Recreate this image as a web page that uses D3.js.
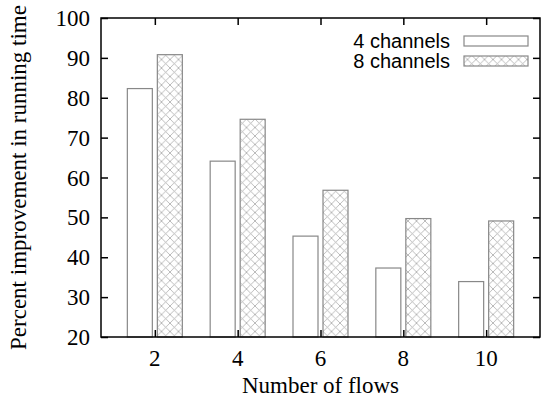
<!DOCTYPE html>
<html>
<head>
<meta charset="utf-8">
<script src="https://cdn.jsdelivr.net/npm/d3@7"></script>
<style>
body { margin: 0; background: #fff; }
</style>
</head>
<body>
<script>
// data
const flows = [2, 4, 6, 8, 10];
const series = ["4 channels", "8 channels"];
const ch4 = [82.3, 64.1, 45.3, 37.3, 33.9];
const ch8 = [90.8, 74.6, 56.8, 49.7, 49.1];
const yTicks = [20, 30, 40, 50, 60, 70, 80, 90, 100];

const width = 550;
const height = 404;
const margin = { top: 18, right: 10, bottom: 67, left: 101 };

const svg = d3.select("body")
    .append("svg")
    .attr("width", width)
    .attr("height", height);

// crosshatch pattern
const pat = svg.append("defs").append("pattern")
    .attr("id", "hatch")
    .attr("patternUnits", "userSpaceOnUse")
    .attr("width", 8.5)
    .attr("height", 8.5);
pat.append("rect").attr("width", 8.5).attr("height", 8.5).attr("fill", "#fff");
pat.append("path")
    .attr("d", "M0,0L8.5,8.5M8.5,0L0,8.5")
    .attr("stroke", "#aaa")
    .attr("stroke-width", 0.8);

const x = d3.scaleLinear()
    .domain([0.7, 11.3])
    .range([margin.left, width - margin.right]);
const y = d3.scaleLinear()
    .domain([20, 100])
    .range([height - margin.bottom, margin.top]);

const barW = 25;
const gap = 2.5;

// bars
const g = svg.append("g");
flows.forEach(function(f, i) {
    g.append("rect")
        .attr("x", x(f) - gap - barW)
        .attr("y", y(ch4[i]))
        .attr("width", barW)
        .attr("height", y(20) - y(ch4[i]))
        .attr("fill", "#fff")
        .attr("stroke", "#888")
        .attr("stroke-width", 1.2);
    g.append("rect")
        .attr("x", x(f) + gap)
        .attr("y", y(ch8[i]))
        .attr("width", barW)
        .attr("height", y(20) - y(ch8[i]))
        .attr("fill", "url(#hatch)")
        .attr("stroke", "#888")
        .attr("stroke-width", 1.2);
});

// axes, ticks inward and mirrored
const tickLen = 7;
const axisG = svg.append("g");
axisG.append("g")
    .attr("transform", "translate(" + margin.left + ",0)")
    .call(d3.axisRight(y).tickValues(yTicks).tickSize(tickLen).tickFormat(""));
axisG.append("g")
    .attr("transform", "translate(" + (width - margin.right) + ",0)")
    .call(d3.axisLeft(y).tickValues(yTicks).tickSize(tickLen).tickFormat(""));
axisG.append("g")
    .attr("transform", "translate(0," + (height - margin.bottom) + ")")
    .call(d3.axisTop(x).tickValues(flows).tickSize(tickLen).tickFormat(""));
axisG.append("g")
    .attr("transform", "translate(0," + margin.top + ")")
    .call(d3.axisBottom(x).tickValues(flows).tickSize(tickLen).tickFormat(""));
axisG.selectAll(".domain").remove();
axisG.selectAll("line").attr("stroke", "#000").attr("stroke-width", 1.5);

svg.append("rect")
    .attr("x", margin.left)
    .attr("y", margin.top)
    .attr("width", width - margin.left - margin.right)
    .attr("height", height - margin.top - margin.bottom)
    .attr("fill", "none")
    .attr("stroke", "#000")
    .attr("stroke-width", 1.5);

// tick labels
const serif = "'Liberation Serif', 'Times New Roman', serif";
svg.append("g").selectAll("text")
    .data(yTicks)
    .enter()
    .append("text")
    .attr("x", margin.left - 11)
    .attr("y", function(d) { return y(d); })
    .attr("dy", "0.35em")
    .attr("text-anchor", "end")
    .style("font-family", serif)
    .style("font-size", "23px")
    .text(function(d) { return d; });

svg.append("g").selectAll("text")
    .data(flows)
    .enter()
    .append("text")
    .attr("x", function(d) { return x(d); })
    .attr("y", 366)
    .attr("text-anchor", "middle")
    .style("font-family", serif)
    .style("font-size", "23px")
    .text(function(d) { return d; });

// axis titles
svg.append("text")
    .attr("x", (margin.left + width - margin.right) / 2)
    .attr("y", 393)
    .attr("text-anchor", "middle")
    .style("font-family", serif)
    .style("font-size", "23px")
    .text("Number of flows");

svg.append("text")
    .attr("transform", "translate(26," + ((margin.top + height - margin.bottom) / 2) + ") rotate(-90)")
    .attr("text-anchor", "middle")
    .style("font-family", serif)
    .style("font-size", "23px")
    .text("Percent improvement in running time");

// legend
const legend = svg.append("g");
series.forEach(function(s, i) {
    const ly = 41 + i * 20;
    legend.append("text")
        .attr("x", 450)
        .attr("y", ly)
        .attr("dy", "0.35em")
        .attr("text-anchor", "end")
        .style("font-family", "'Liberation Sans', Arial, sans-serif")
        .style("font-size", "20px")
        .text(s);
    legend.append("rect")
        .attr("x", 464)
        .attr("y", ly - 5)
        .attr("width", 64)
        .attr("height", 10)
        .attr("fill", i === 0 ? "#fff" : "url(#hatch)")
        .attr("stroke", "#888")
        .attr("stroke-width", 1.2);
});
</script>
</body>
</html>
